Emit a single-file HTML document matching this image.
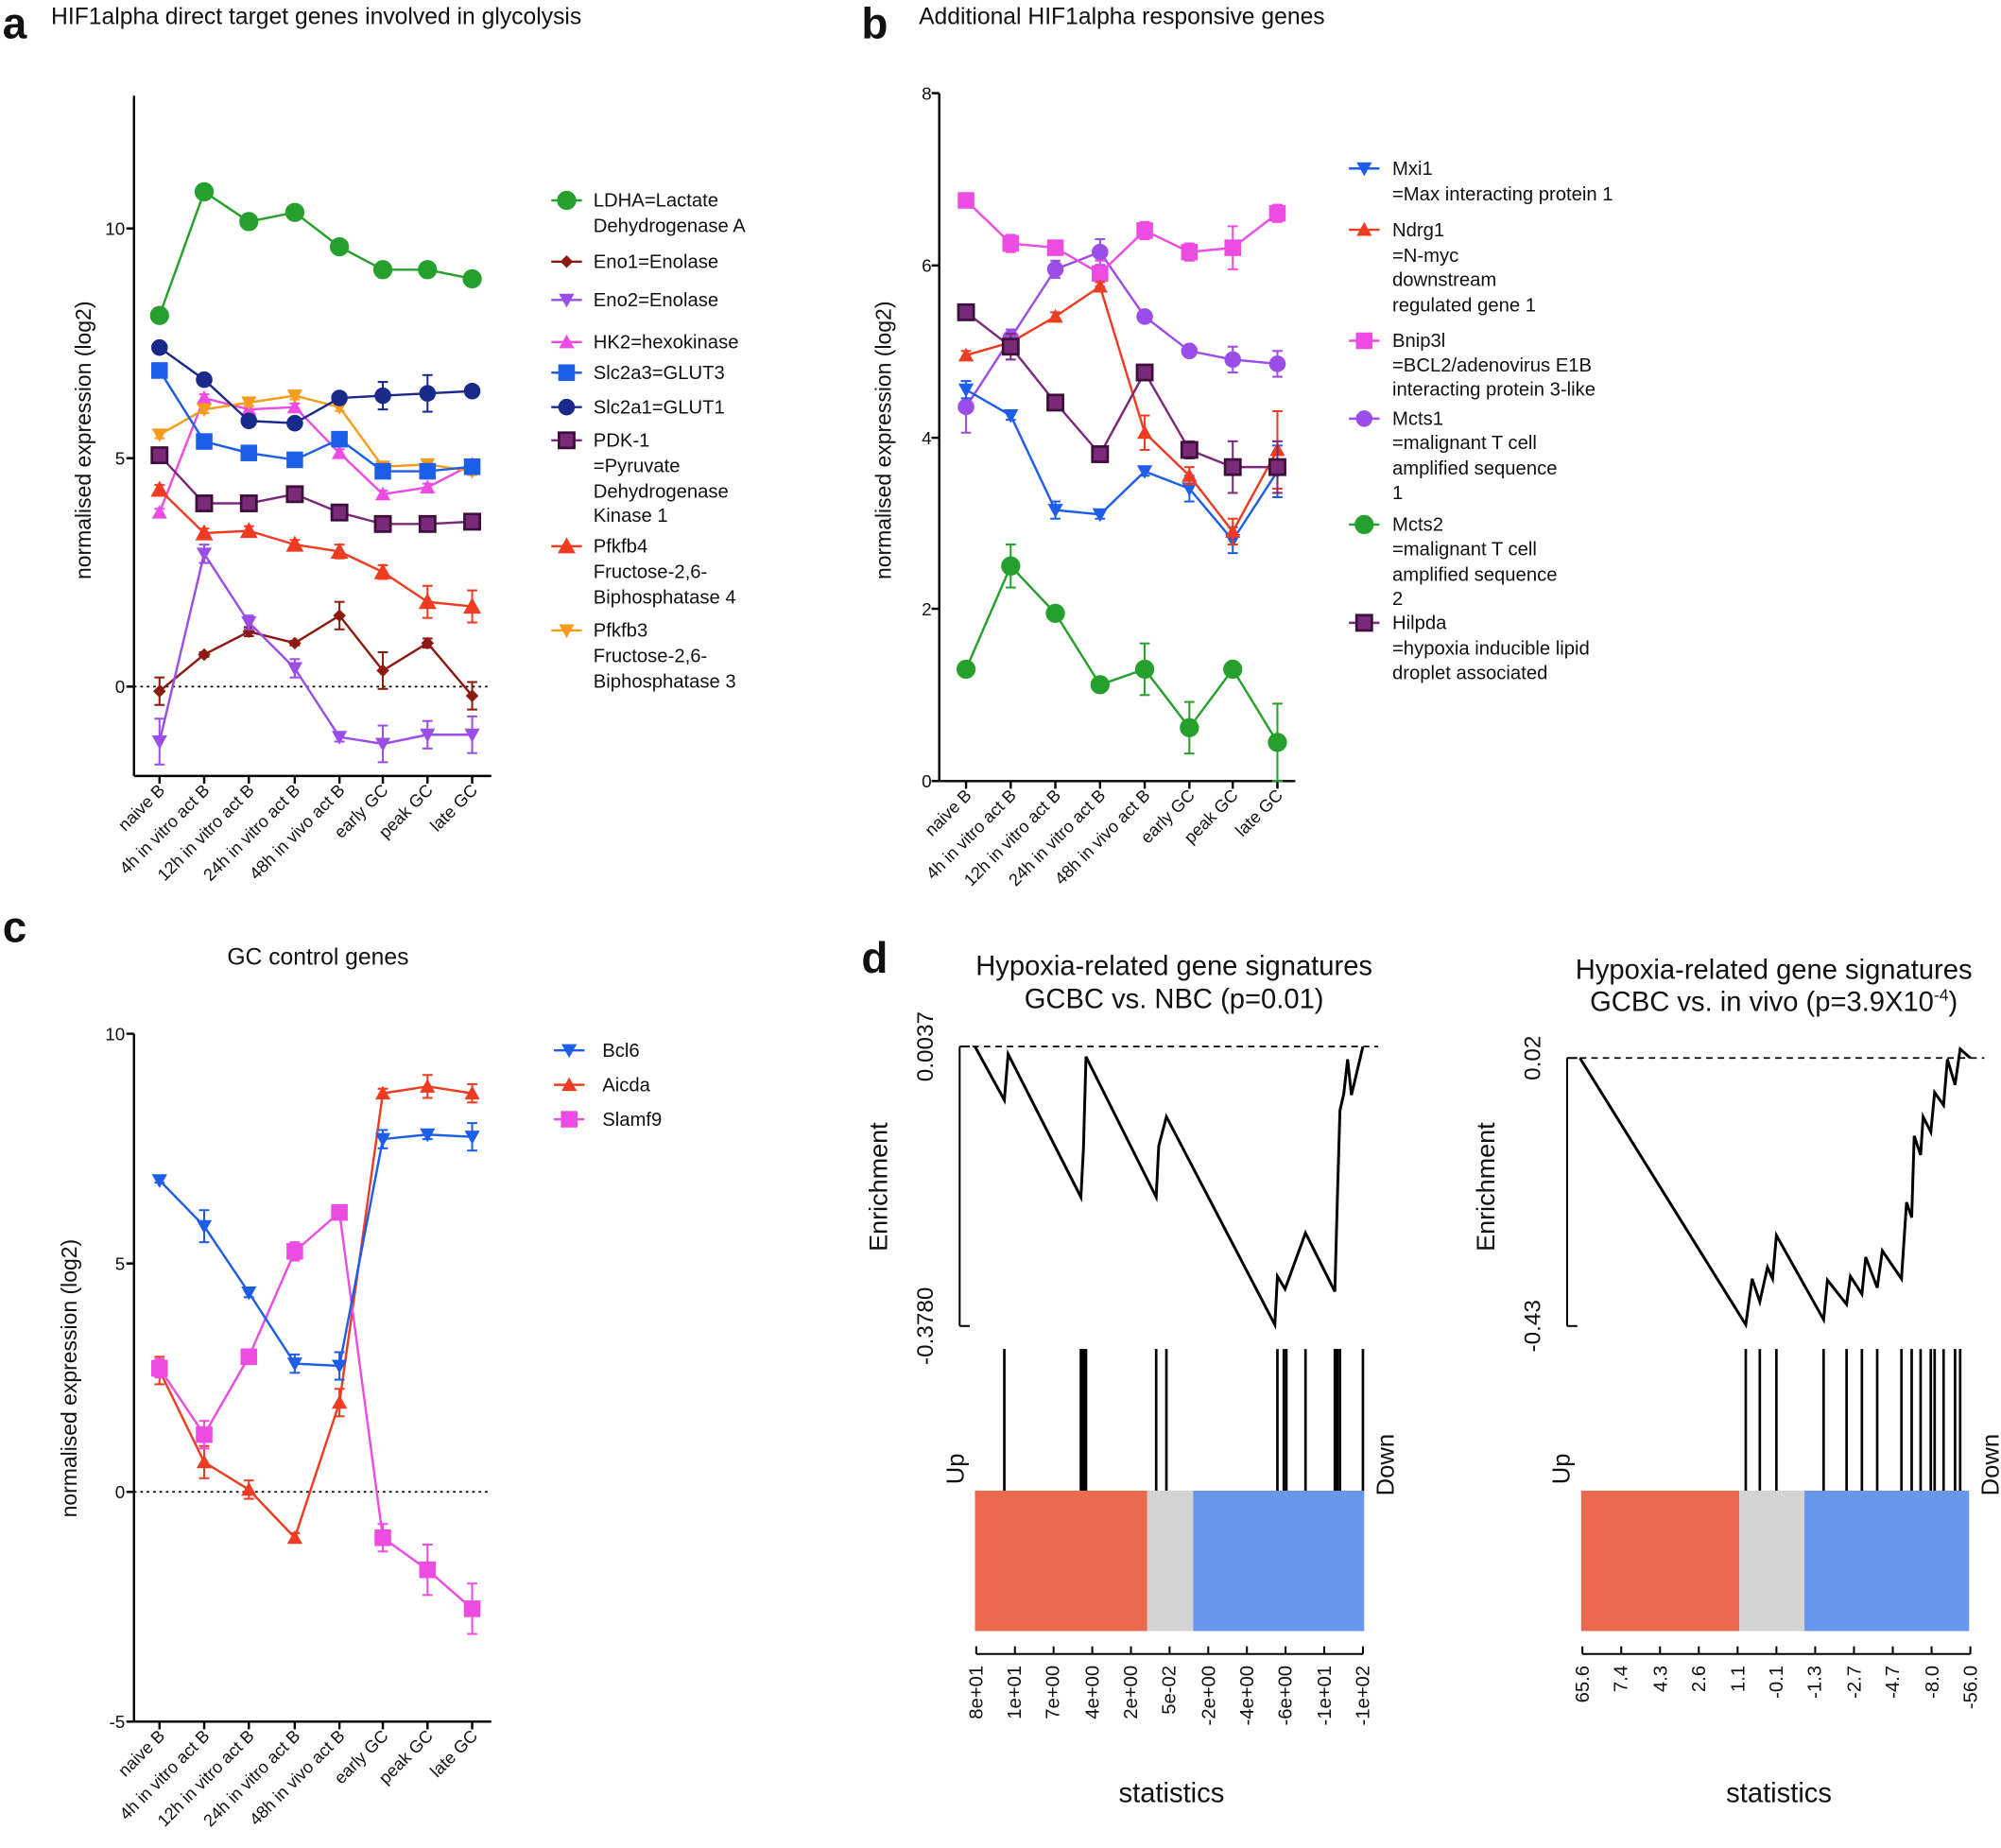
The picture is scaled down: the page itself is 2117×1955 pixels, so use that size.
<!DOCTYPE html>
<html><head><meta charset="utf-8"><style>
html,body{margin:0;padding:0;background:#fff}
svg{display:block}
text{font-family:"Liberation Sans",sans-serif;fill:#111}
</style></head><body>
<svg id="s" width="2117" height="1955" viewBox="0 0 1568 1448" xmlns="http://www.w3.org/2000/svg">
<g id="plots"></g>
<text x="2" y="30" font-size="34" font-weight="bold">a</text>
<text x="40" y="19" font-size="18.3">HIF1alpha direct target genes involved in glycolysis</text>
<text x="675" y="30" font-size="34" font-weight="bold">b</text>
<text x="720" y="19" font-size="18.3">Additional HIF1alpha responsive genes</text>
<text x="2" y="738" font-size="34" font-weight="bold">c</text>
<text x="178" y="756" font-size="18.3">GC control genes</text>
<text x="675" y="762" font-size="34" font-weight="bold">d</text>

<g font-size="14" text-anchor="end">
<text x="98" y="184">10</text><text x="98" y="364">5</text><text x="98" y="543">0</text>
<text x="730" y="78">8</text><text x="730" y="213">6</text><text x="730" y="348">4</text><text x="730" y="482">2</text><text x="730" y="617">0</text>
<text x="98" y="815">10</text><text x="98" y="995">5</text><text x="98" y="1174">0</text><text x="98" y="1354">-5</text>
</g>
<text transform="translate(71,345) rotate(-90)" font-size="17" text-anchor="middle">normalised expression (log2)</text>
<text transform="translate(698,345) rotate(-90)" font-size="17" text-anchor="middle">normalised expression (log2)</text>
<text transform="translate(60,1080) rotate(-90)" font-size="17" text-anchor="middle">normalised expression (log2)</text>

<g font-size="13.5" text-anchor="end">
<text transform="translate(130,620) rotate(-45)">naive B</text>
<text transform="translate(165,620) rotate(-45)">4h in vitro act B</text>
<text transform="translate(200,620) rotate(-45)">12h in vitro act B</text>
<text transform="translate(236,620) rotate(-45)">24h in vitro act B</text>
<text transform="translate(271,620) rotate(-45)">48h in vivo act B</text>
<text transform="translate(305,620) rotate(-45)">early GC</text>
<text transform="translate(340,620) rotate(-45)">peak GC</text>
<text transform="translate(375,620) rotate(-45)">late GC</text>
</g>
<g font-size="13.5" text-anchor="end">
<text transform="translate(762,624) rotate(-45)">naive B</text>
<text transform="translate(797,624) rotate(-45)">4h in vitro act B</text>
<text transform="translate(832,624) rotate(-45)">12h in vitro act B</text>
<text transform="translate(867,624) rotate(-45)">24h in vitro act B</text>
<text transform="translate(902,624) rotate(-45)">48h in vivo act B</text>
<text transform="translate(937,624) rotate(-45)">early GC</text>
<text transform="translate(971,624) rotate(-45)">peak GC</text>
<text transform="translate(1006,624) rotate(-45)">late GC</text>
</g>
<g font-size="13.5" text-anchor="end">
<text transform="translate(130,1361) rotate(-45)">naive B</text>
<text transform="translate(165,1361) rotate(-45)">4h in vitro act B</text>
<text transform="translate(200,1361) rotate(-45)">12h in vitro act B</text>
<text transform="translate(236,1361) rotate(-45)">24h in vitro act B</text>
<text transform="translate(271,1361) rotate(-45)">48h in vivo act B</text>
<text transform="translate(305,1361) rotate(-45)">early GC</text>
<text transform="translate(340,1361) rotate(-45)">peak GC</text>
<text transform="translate(375,1361) rotate(-45)">late GC</text>
</g>

<g font-size="15">
<text x="465" y="162">LDHA=Lactate</text><text x="465" y="182">Dehydrogenase A</text>
<text x="465" y="210">Eno1=Enolase</text>
<text x="465" y="240">Eno2=Enolase</text>
<text x="465" y="273">HK2=hexokinase</text>
<text x="465" y="297">Slc2a3=GLUT3</text>
<text x="465" y="324">Slc2a1=GLUT1</text>
<text x="465" y="350">PDK-1</text><text x="465" y="370">=Pyruvate</text><text x="465" y="390">Dehydrogenase</text><text x="465" y="409">Kinase 1</text>
<text x="465" y="433">Pfkfb4</text><text x="465" y="453">Fructose-2,6-</text><text x="465" y="473">Biphosphatase 4</text>
<text x="465" y="499">Pfkfb3</text><text x="465" y="519">Fructose-2,6-</text><text x="465" y="539">Biphosphatase 3</text>
</g>
<g font-size="15">
<text x="1091" y="137">Mxi1</text><text x="1091" y="157">=Max interacting protein 1</text>
<text x="1091" y="185">Ndrg1</text><text x="1091" y="205">=N-myc</text><text x="1091" y="224">downstream</text><text x="1091" y="244">regulated gene 1</text>
<text x="1091" y="272">Bnip3l</text><text x="1091" y="291">=BCL2/adenovirus E1B</text><text x="1091" y="310">interacting protein 3-like</text>
<text x="1091" y="333">Mcts1</text><text x="1091" y="352">=malignant T cell</text><text x="1091" y="372">amplified sequence</text><text x="1091" y="391">1</text>
<text x="1091" y="416">Mcts2</text><text x="1091" y="435">=malignant T cell</text><text x="1091" y="455">amplified sequence</text><text x="1091" y="474">2</text>
<text x="1091" y="493">Hilpda</text><text x="1091" y="513">=hypoxia inducible lipid</text><text x="1091" y="532">droplet associated</text>
</g>
<g font-size="15">
<text x="472" y="828">Bcl6</text><text x="472" y="855">Aicda</text><text x="472" y="882">Slamf9</text>
</g>

<g font-size="21.6" text-anchor="middle">
<text x="920" y="764">Hypoxia-related gene signatures</text>
<text x="920" y="790">GCBC vs. NBC (p=0.01)</text>
<text x="1390" y="767">Hypoxia-related gene signatures</text>
<text x="1390" y="792">GCBC vs. in vivo (p=3.9X10<tspan font-size="13" dy="-8">-4</tspan><tspan dy="8">)</tspan></text>
<text x="918" y="1412">statistics</text>
<text x="1394" y="1412">statistics</text>
</g>
<g font-size="20">
<text transform="translate(695,930) rotate(-90)" text-anchor="middle">Enrichment</text>
<text transform="translate(1171,930) rotate(-90)" text-anchor="middle">Enrichment</text>
<text transform="translate(731,820) rotate(-90)" text-anchor="middle" font-size="18">0.0037</text>
<text transform="translate(731,1039) rotate(-90)" text-anchor="middle" font-size="18">-0.3780</text>
<text transform="translate(1207,829) rotate(-90)" text-anchor="middle" font-size="18">0.02</text>
<text transform="translate(1207,1039) rotate(-90)" text-anchor="middle" font-size="18">-0.43</text>
<text transform="translate(755,1163) rotate(-90)" font-size="19">Up</text>
<text transform="translate(1092,1172) rotate(-90)" font-size="19">Down</text>
<text transform="translate(1230,1163) rotate(-90)" font-size="19">Up</text>
<text transform="translate(1566,1172) rotate(-90)" font-size="19">Down</text>
</g>
<g font-size="15" text-anchor="end">
<text transform="translate(770,1305) rotate(-90)">8e+01</text>
<text transform="translate(800,1305) rotate(-90)">1e+01</text>
<text transform="translate(830,1305) rotate(-90)">7e+00</text>
<text transform="translate(861,1305) rotate(-90)">4e+00</text>
<text transform="translate(891,1305) rotate(-90)">2e+00</text>
<text transform="translate(921,1305) rotate(-90)">5e-02</text>
<text transform="translate(952,1305) rotate(-90)">-2e+00</text>
<text transform="translate(982,1305) rotate(-90)">-4e+00</text>
<text transform="translate(1012,1305) rotate(-90)">-6e+00</text>
<text transform="translate(1043,1305) rotate(-90)">-1e+01</text>
<text transform="translate(1073,1305) rotate(-90)">-1e+02</text>
<text transform="translate(1245,1305) rotate(-90)">65.6</text>
<text transform="translate(1275,1305) rotate(-90)">7.4</text>
<text transform="translate(1306,1305) rotate(-90)">4.3</text>
<text transform="translate(1336,1305) rotate(-90)">2.6</text>
<text transform="translate(1367,1305) rotate(-90)">1.1</text>
<text transform="translate(1397,1305) rotate(-90)">-0.1</text>
<text transform="translate(1427,1305) rotate(-90)">-1.3</text>
<text transform="translate(1458,1305) rotate(-90)">-2.7</text>
<text transform="translate(1488,1305) rotate(-90)">-4.7</text>
<text transform="translate(1519,1305) rotate(-90)">-8.0</text>
<text transform="translate(1549,1305) rotate(-90)">-56.0</text>
</g>
</svg>
<script>
var NS="http://www.w3.org/2000/svg",G=document.getElementById("plots");
function el(t,a){var e=document.createElementNS(NS,t);for(var k in a)e.setAttribute(k,a[k]);G.appendChild(e);return e;}
function line(x1,y1,x2,y2,c,w,d){var a={x1:x1,y1:y1,x2:x2,y2:y2,stroke:c||"#000","stroke-width":w||1.5};if(d)a["stroke-dasharray"]=d;el("line",a);}
function marker(type,x,y,c,s,border){s=s||6;var st=border||c;
 if(type=="o")el("circle",{cx:x,cy:y,r:s,fill:c,stroke:st,"stroke-width":1});
 else if(type=="s")el("rect",{x:x-s,y:y-s,width:2*s,height:2*s,fill:c,stroke:st,"stroke-width":border?2:1});
 else if(type=="^")el("polygon",{points:(x)+","+(y-s)+" "+(x-s)+","+(y+s*0.8)+" "+(x+s)+","+(y+s*0.8),fill:c});
 else if(type=="v")el("polygon",{points:(x)+","+(y+s)+" "+(x-s)+","+(y-s*0.8)+" "+(x+s)+","+(y-s*0.8),fill:c});
 else if(type=="d")el("polygon",{points:x+","+(y-s)+" "+(x+s)+","+y+" "+x+","+(y+s)+" "+(x-s)+","+y,fill:c});}
function series(xs,y0,u,vals,c,type,s,border,err){var pts=[];
 for(var i=0;i<vals.length;i++)pts.push(xs[i]+","+(y0-u*vals[i]));
 el("polyline",{points:pts.join(" "),fill:"none",stroke:c,"stroke-width":1.8});
 for(i=0;i<vals.length;i++){var y=y0-u*vals[i],e=(err&&err[i]||0.08)*u;
  line(xs[i],y-e,xs[i],y+e,c,1.5);line(xs[i]-4,y-e,xs[i]+4,y-e,c,1.5);line(xs[i]-4,y+e,xs[i]+4,y+e,c,1.5);
  marker(type,xs[i],y,c,s,border);}}
function axes(x,ytop,ybot,ticks,xend,xs){line(x,ytop,x,ybot,"#000",1.8);line(x,ybot,xend,ybot,"#000",1.8);
 ticks.forEach(function(t){line(x-6,t,x,t,"#000",1.8);});
 xs.forEach(function(t){line(t,ybot,t,ybot+6,"#000",1.8);});}
var xa=[125,160,195,231,266,300,335,370],xb=[757,792,827,862,897,932,966,1001];
axes(105,75,608,[179,359,538],385,xa);
var ua=35.9,ya=538;
line(105,538,385,538,"#000",1.3,"2,3");
series(xa,ya,ua,[-0.1,0.7,1.2,0.95,1.55,0.35,0.95,-0.2],"#8b1a10","d",5,null,[0.3,0.05,0.1,0.05,0.3,0.4,0.1,0.3]);
series(xa,ya,ua,[-1.2,2.9,1.4,0.4,-1.1,-1.25,-1.05,-1.05],"#9b4de8","v",6,null,[0.5,0.2,0.15,0.2,0.1,0.4,0.3,0.4]);
series(xa,ya,ua,[3.8,6.3,6.05,6.1,5.1,4.2,4.35,4.85],"#ee4be3","^",6);
series(xa,ya,ua,[5.5,6.05,6.2,6.35,6.1,4.8,4.85,4.7],"#f79c1a","v",6);
series(xa,ya,ua,[4.3,3.35,3.4,3.1,2.95,2.5,1.85,1.75],"#ef3b22","^",7,null,[0.1,0.1,0.1,0.1,0.15,0.15,0.35,0.35]);
series(xa,ya,ua,[5.05,4.0,4.0,4.2,3.8,3.55,3.55,3.6],"#7b2a7a","s",6,"#3d103c");
series(xa,ya,ua,[6.9,5.35,5.1,4.95,5.4,4.7,4.7,4.8],"#1d5ee8","s",6);
series(xa,ya,ua,[7.4,6.7,5.8,5.75,6.3,6.35,6.4,6.45],"#1a2a8a","o",6,null,[0.05,0.05,0.1,0.1,0.05,0.3,0.4,0.1]);
series(xa,ya,ua,[8.1,10.8,10.15,10.35,9.6,9.1,9.1,8.9],"#25a02c","o",7);
var La=[[157,"#25a02c","o",7],[205,"#8b1a10","d",5],[235,"#9b4de8","v",6],[268,"#ee4be3","^",6],[292,"#1d5ee8","s",6],[319,"#1a2a8a","o",6],[345,"#7b2a7a","s",6,"#3d103c"],[428,"#ef3b22","^",7],[494,"#f79c1a","v",6]];
La.forEach(function(l){line(432,l[0],456,l[0],l[1],1.8);marker(l[2],444,l[0],l[1],l[3],l[4]);});
axes(736,73,612,[73,208,343,477,612],1015,xb);
var ub=67.4,yb=612;
series(xb,yb,ub,[1.3,2.5,1.95,1.12,1.3,0.62,1.3,0.45],"#25a02c","o",7,null,[0.07,0.25,0.05,0.05,0.3,0.3,0.05,0.45]);
series(xb,yb,ub,[4.35,5.15,5.95,6.15,5.4,5.0,4.9,4.85],"#9b4de8","o",6,null,[0.3,0.1,0.1,0.15,0.05,0.05,0.15,0.15]);
series(xb,yb,ub,[6.75,6.25,6.2,5.9,6.4,6.15,6.2,6.6],"#ee4be3","s",6,null,[0.05,0.1,0.05,0.15,0.1,0.1,0.25,0.1]);
series(xb,yb,ub,[4.55,4.25,3.15,3.1,3.6,3.4,2.8,3.6],"#1d5ee8","v",6,null,[0.1,0.05,0.1,0.05,0.05,0.15,0.15,0.3]);
series(xb,yb,ub,[4.95,5.1,5.4,5.75,4.05,3.55,2.9,3.85],"#ef3b22","^",6,null,[0.05,0.1,0.05,0.05,0.2,0.1,0.15,0.45]);
series(xb,yb,ub,[5.45,5.05,4.4,3.8,4.75,3.85,3.65,3.65],"#7b2a7a","s",6,"#3d103c",[0.05,0.15,0.05,0.05,0.05,0.1,0.3,0.3]);
var Lb=[[132,"#1d5ee8","v",6],[180,"#ef3b22","^",6],[267,"#ee4be3","s",6],[328,"#9b4de8","o",6],[411,"#25a02c","o",7],[488,"#7b2a7a","s",6,"#3d103c"]];
Lb.forEach(function(l){line(1057,l[0],1081,l[0],l[1],1.8);marker(l[2],1069,l[0],l[1],l[3],l[4]);});
axes(105,810,1349,[810,990,1169,1349],385,xa);
var uc=35.9,yc=1169;
line(105,1169,385,1169,"#000",1.3,"2,3");
series(xa,yc,uc,[2.65,0.65,0.05,-1.0,1.95,8.7,8.85,8.7],"#ef3b22","^",6,null,[0.3,0.35,0.2,0.1,0.3,0.1,0.25,0.2]);
series(xa,yc,uc,[2.7,1.25,2.95,5.25,6.1,-1.0,-1.7,-2.55],"#ee4be3","s",6,null,[0.2,0.3,0.15,0.2,0.1,0.3,0.55,0.55]);
series(xa,yc,uc,[6.8,5.8,4.35,2.8,2.75,7.7,7.8,7.75],"#1d5ee8","v",6,null,[0.05,0.35,0.1,0.2,0.3,0.2,0.1,0.3]);
var Lc=[[823,"#1d5ee8","v",6],[850,"#ef3b22","^",6],[877,"#ee4be3","s",6]];
Lc.forEach(function(l){line(434,l[0],458,l[0],l[1],1.8);marker(l[2],446,l[0],l[1],l[3],l[4]);});
function gsea(ax,top,bot,dx1,dx2,curve,bars,seg,tx){
 line(ax,top,ax,bot,"#000",1.5);line(ax,top,ax+8,top,"#000",1.5);line(ax,bot,ax+8,bot,"#000",1.5);
 line(dx1,top,dx2,top,"#000",1.3,"5,4");
 el("polyline",{points:curve.map(function(p){return p.join(",")}).join(" "),fill:"none",stroke:"#000","stroke-width":2.2});
 bars.forEach(function(b){line(b,1057,b,1168,"#000",2);});
 el("rect",{x:seg[0],y:1168,width:seg[1]-seg[0],height:110,fill:"#ea6a4f"});
 el("rect",{x:seg[1],y:1168,width:seg[2]-seg[1],height:110,fill:"#d3d3d3"});
 el("rect",{x:seg[2],y:1168,width:seg[3]-seg[2],height:110,fill:"#6896ea"});
 line(tx[0],1296,tx[tx.length-1],1296,"#000",1.5);
 tx.forEach(function(t){line(t,1290,t,1296,"#000",1.5);});}
var tl=[],tr=[];for(var i=0;i<11;i++){tl.push(765+i*30.3);tr.push(1240+i*30.4);}
gsea(752,820,1039,762,1080,[[764,820],[787,862],[790,826],[847,938],[849,900],[851,828],[906,938],[908,898],[914,875],[999,1038],[1001,1000],[1007,1010],[1023,966],[1046,1012],[1048,938],[1050,870],[1053,857],[1056,830],[1059,858],[1068,820]],
 [787,847,848,849,850,851,906,914,1001,1006,1008,1023,1046,1047,1048,1050,1068],[764,899,935,1069],tl);
gsea(1228,829,1039,1238,1555,[[1238,829],[1368,1038],[1373,1002],[1379,1020],[1385,993],[1389,1002],[1392,968],[1429,1034],[1432,1003],[1447,1022],[1450,1000],[1459,1014],[1462,985],[1471,1009],[1475,980],[1490,1002],[1494,942],[1498,954],[1500,890],[1505,905],[1507,875],[1513,887],[1516,856],[1523,866],[1526,830],[1532,850],[1536,822],[1544,829]],
 [1368,1379,1392,1429,1447,1459,1471,1490,1498,1505,1513,1516,1523,1532,1536],[1239,1363,1414,1543],tr);
</script>
</body></html>
